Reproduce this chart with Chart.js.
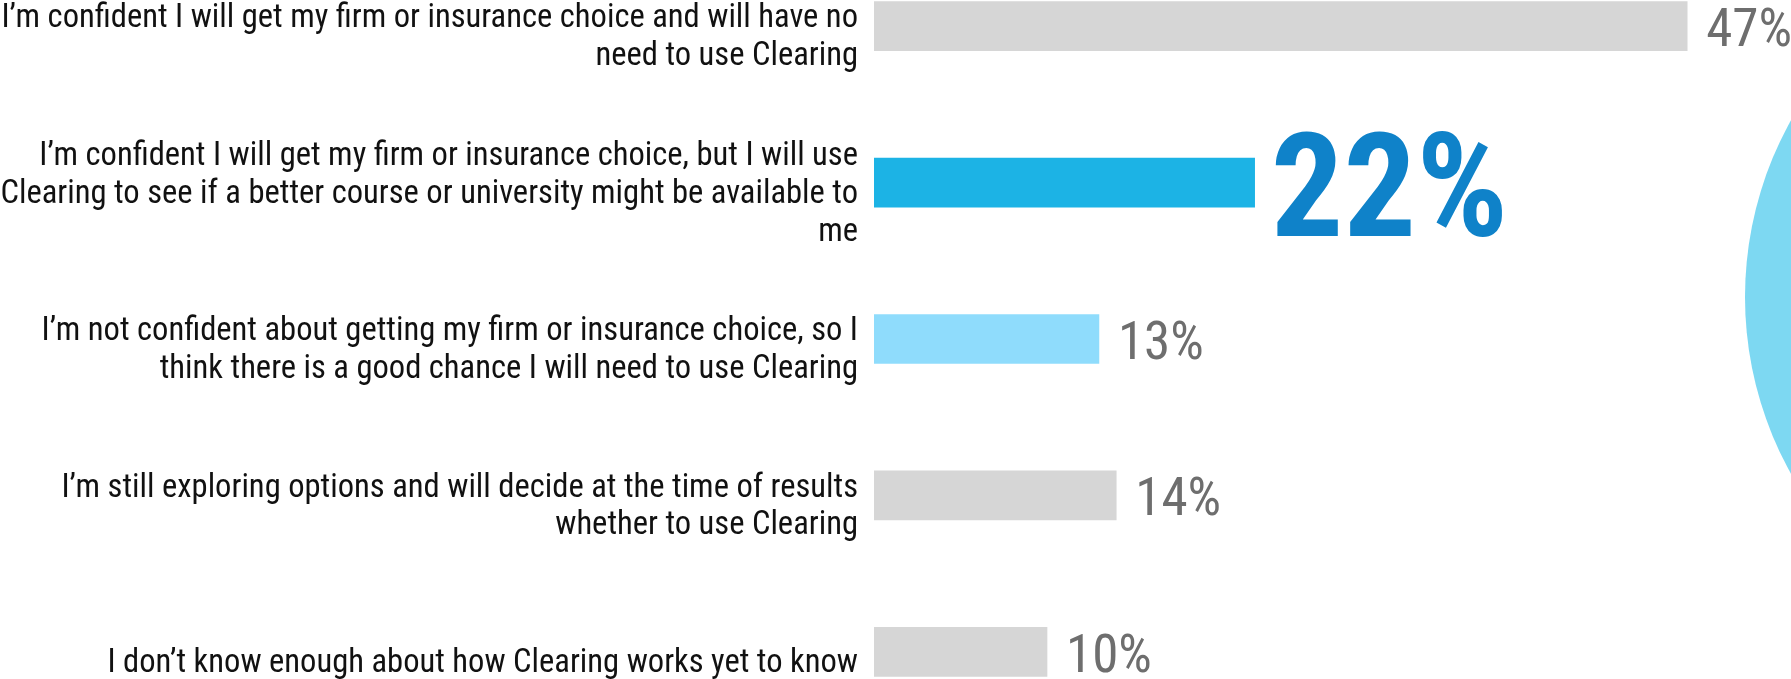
<!DOCTYPE html>
<html>
<head>
<meta charset="utf-8">
<script src="https://cdn.jsdelivr.net/npm/chart.js@4/dist/chart.umd.min.js"></script>
<style>
  html, body { margin: 0; padding: 0; background: #fff; overflow: hidden; }
  #wrap { position: absolute; left: 0; top: -52px; width: 1791px; height: 782px; }
</style>
</head>
<body>
<div id="wrap"><canvas id="clearingChart"></canvas></div>
<script>
var answers = [
  ["I’m confident I will get my firm or insurance choice and will have no", "need to use Clearing"],
  ["I’m confident I will get my firm or insurance choice, but I will use", "Clearing to see if a better course or university might be available to", "me"],
  ["I’m not confident about getting my firm or insurance choice, so I", "think there is a good chance I will need to use Clearing"],
  ["I’m still exploring options and will decide at the time of results", "whether to use Clearing"],
  ["I don’t know enough about how Clearing works yet to know"]
];
var percentages = [47, 22, 13, 14, 10];
var barColors = ["#d6d6d6", "#1cb3e5", "#8fdcfc", "#d6d6d6", "#d6d6d6"];
var highlight = 1;

var narrow = "'Roboto Condensed', 'Liberation Sans Narrow', 'DejaVu Sans Condensed', sans-serif";

// big ring on the right edge + value labels next to the bars
var decorations = {
  id: "decorations",
  beforeDatasetsDraw: function (chart) {
    var ctx = chart.ctx;
    ctx.save();
    ctx.fillStyle = "#7dd8f2";
    ctx.beginPath();
    ctx.arc(2108, 349, 363, 0, Math.PI * 2);
    ctx.fill();
    ctx.restore();
  },
  afterDatasetsDraw: function (chart) {
    var ctx = chart.ctx;
    var meta = chart.getDatasetMeta(0);
    meta.data.forEach(function (bar, i) {
      var txt = percentages[i] + "%";
      ctx.save();
      ctx.textBaseline = "alphabetic";
      if (i === highlight) {
        ctx.font = "bold 144px " + narrow;
        ctx.fillStyle = "#0f82c9";
        ctx.fillText(txt, bar.x + 16, bar.y + 53);
      } else {
        ctx.font = "53px " + narrow;
        ctx.fillStyle = "#6e6e6e";
        ctx.fillText(txt, bar.x + 19, bar.y + 20);
      }
      ctx.restore();
    });
  }
};

new Chart("clearingChart", {
  type: "bar",
  data: {
    labels: answers,
    datasets: [{
      data: percentages,
      backgroundColor: barColors,
      barThickness: 49
    }]
  },
  options: {
    indexAxis: "y",
    responsive: true,
    maintainAspectRatio: false,
    animation: false,
    layout: { padding: 0 },
    plugins: {
      legend: { display: false },
      tooltip: { enabled: false }
    },
    scales: {
      x: {
        display: false,
        min: 0,
        max: 53
      },
      y: {
        grid: { display: false, drawTicks: false },
        border: { display: false },
        afterFit: function (scale) {
          scale.width = 874;
          scale.paddingTop = 0;
          scale.paddingBottom = 0;
        },
        ticks: {
          padding: 16,
          labelOffset: 12,
          color: "#111",
          font: { family: narrow, size: 32.6, lineHeight: 1.16 }
        }
      }
    }
  },
  plugins: [decorations]
});
</script>
</body>
</html>
